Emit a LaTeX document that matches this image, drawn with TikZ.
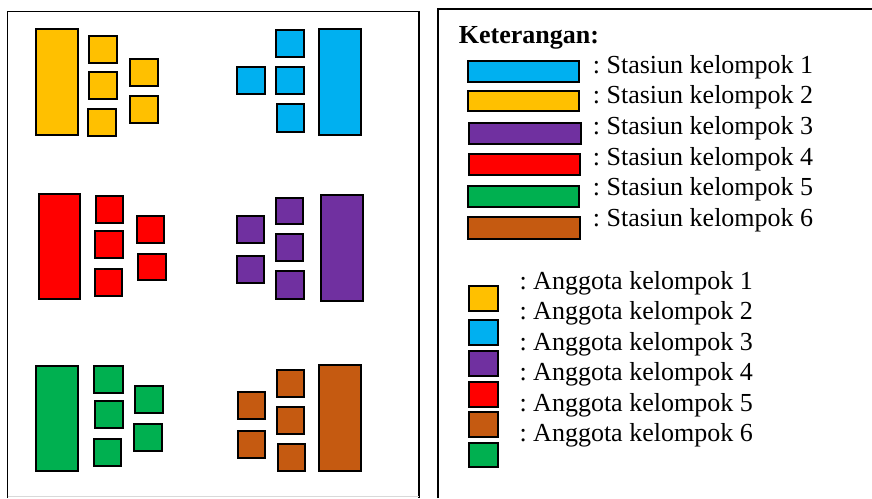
\documentclass[tikz,border=0pt]{standalone}
\usepackage{fontspec}
\setmainfont{Liberation Serif}
\frenchspacing
\definecolor{cyel}{HTML}{FFC000}
\definecolor{cblu}{HTML}{00B0F0}
\definecolor{cpur}{HTML}{7030A0}
\definecolor{cred}{HTML}{FF0000}
\definecolor{cgrn}{HTML}{00B050}
\definecolor{cbrn}{HTML}{C55A11}
\tikzset{
  box/.style={draw=black, line width=2pt},
  frame/.style={draw=black, line width=1.6pt},
  lbl/.style={anchor=base west, inner sep=0pt, font=\fontsize{26}{30}\selectfont},
}
\begin{document}
\begin{tikzpicture}[x=1pt,y=-1pt]
\frenchspacing
\useasboundingbox (0,0) rectangle (872,498);
% frames
\draw[frame] (7.5,498) -- (7.5,11.5) -- (418.7,11.5) -- (418.7,498);
\draw[gray!30, line width=0.8pt] (7.5,496.5) -- (418.7,496.5);
\draw[frame] (438,498) -- (438,9) -- (872,9);

% group yellow
\filldraw[box, fill=cyel] (36,29) rectangle (77.7,134.7);
\filldraw[box, fill=cyel] (89.3,36.3) rectangle (116.7,62.7);
\filldraw[box, fill=cyel] (89.3,71.7) rectangle (116.7,99);
\filldraw[box, fill=cyel] (88.3,108.7) rectangle (116,136);
\filldraw[box, fill=cyel] (130.3,59) rectangle (157.7,86);
\filldraw[box, fill=cyel] (130.3,96) rectangle (158.3,123.3);
% group blue
\filldraw[box, fill=cblu] (237.3,67.3) rectangle (264.7,94.3);
\filldraw[box, fill=cblu] (276.3,30) rectangle (303.7,57);
\filldraw[box, fill=cblu] (276.3,66.7) rectangle (303.7,93.7);
\filldraw[box, fill=cblu] (277,104.3) rectangle (304.3,131.7);
\filldraw[box, fill=cblu] (319.3,29) rectangle (360.7,134.7);
% group red
\filldraw[box, fill=cred] (39,193.7) rectangle (80.3,299);
\filldraw[box, fill=cred] (95.7,195.7) rectangle (123.3,223);
\filldraw[box, fill=cred] (95.3,231) rectangle (123.3,258.3);
\filldraw[box, fill=cred] (94.7,269) rectangle (122.3,296);
\filldraw[box, fill=cred] (136.7,216.3) rectangle (164,243.3);
\filldraw[box, fill=cred] (138,253.7) rectangle (165.7,280);
% group purple
\filldraw[box, fill=cpur] (236.7,216.3) rectangle (264,243.3);
\filldraw[box, fill=cpur] (236.7,256) rectangle (264,283.3);
\filldraw[box, fill=cpur] (275.7,197.7) rectangle (303,224.3);
\filldraw[box, fill=cpur] (275.7,234.3) rectangle (303,261.3);
\filldraw[box, fill=cpur] (276.3,271.3) rectangle (303.7,298.7);
\filldraw[box, fill=cpur] (321,195) rectangle (362.7,301.3);
% group green
\filldraw[box, fill=cgrn] (36.3,365.7) rectangle (77.7,471.3);
\filldraw[box, fill=cgrn] (94.3,365.7) rectangle (122.7,392.7);
\filldraw[box, fill=cgrn] (94.7,400.7) rectangle (122.7,428);
\filldraw[box, fill=cgrn] (93.7,438.7) rectangle (121.3,465.7);
\filldraw[box, fill=cgrn] (135.3,386) rectangle (163.3,413);
\filldraw[box, fill=cgrn] (134.3,424.3) rectangle (162.3,451.3);
% group brown
\filldraw[box, fill=cbrn] (237.7,391.7) rectangle (265.3,419);
\filldraw[box, fill=cbrn] (237.7,431) rectangle (265.3,458.3);
\filldraw[box, fill=cbrn] (277,370) rectangle (304.3,396.7);
\filldraw[box, fill=cbrn] (277,406.7) rectangle (304.3,433.7);
\filldraw[box, fill=cbrn] (277.7,444) rectangle (305,471.3);
\filldraw[box, fill=cbrn] (319.3,365.3) rectangle (360.7,471.3);

% legend
\node[lbl, font=\fontsize{26}{30}\selectfont\bfseries] (title) at (458.7,43.3) {Keterangan:};
\filldraw[box, fill=cblu] (467.7,61) rectangle (579,82);
\filldraw[box, fill=cyel] (467.7,90.7) rectangle (579,111.3);
\filldraw[box, fill=cpur] (469.3,123.3) rectangle (581,144.3);
\filldraw[box, fill=cred] (468.7,154.3) rectangle (580,174.7);
\filldraw[box, fill=cgrn] (467.7,186) rectangle (579,207);
\filldraw[box, fill=cbrn] (468.3,217.3) rectangle (579.7,238.7);
\node[lbl] (s1) at (592.7,73.3) {: Stasiun kelompok 1};
\node[lbl] (s2) at (592.7,103.8) {: Stasiun kelompok 2};
\node[lbl] (s3) at (592.7,134.3) {: Stasiun kelompok 3};
\node[lbl] (s4) at (592.7,165) {: Stasiun kelompok 4};
\node[lbl] (s5) at (592.7,195.7) {: Stasiun kelompok 5};
\node[lbl] (s6) at (592.7,226.3) {: Stasiun kelompok 6};

\filldraw[box, fill=cyel] (469.3,286) rectangle (498.3,310.7);
\filldraw[box, fill=cblu] (469.3,320) rectangle (498.3,344.7);
\filldraw[box, fill=cpur] (469.3,351.3) rectangle (498.3,376);
\filldraw[box, fill=cred] (469.3,382) rectangle (498.3,406.7);
\filldraw[box, fill=cbrn] (469.3,412.3) rectangle (498.3,436.7);
\filldraw[box, fill=cgrn] (469.3,443) rectangle (498.3,467.3);
\node[lbl] (a1) at (519.3,289) {: Anggota kelompok 1};
\node[lbl] (a2) at (519.3,319.5) {: Anggota kelompok 2};
\node[lbl] (a3) at (519.3,350) {: Anggota kelompok 3};
\node[lbl] (a4) at (519.3,380.5) {: Anggota kelompok 4};
\node[lbl] (a5) at (519.3,411) {: Anggota kelompok 5};
\node[lbl] (a6) at (519.3,441.5) {: Anggota kelompok 6};
\end{tikzpicture}
\end{document}
